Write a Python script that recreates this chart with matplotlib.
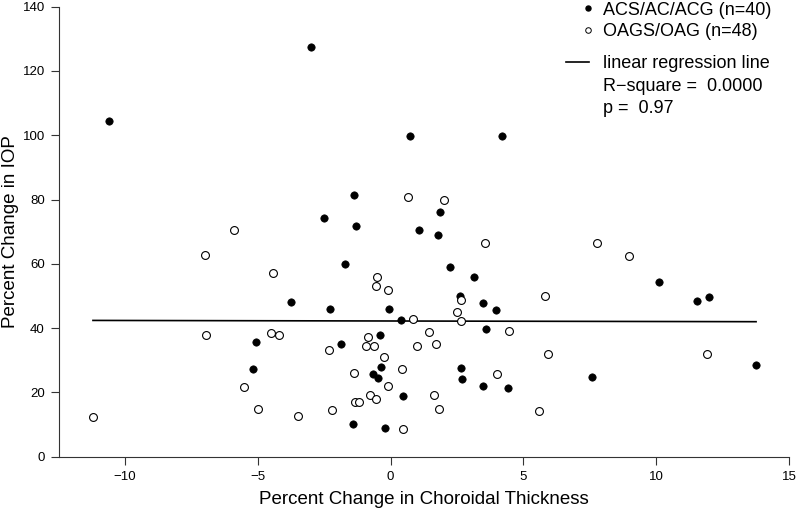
import numpy as np
import matplotlib
matplotlib.use("Agg")
import matplotlib.pyplot as plt

plt.rcParams['font.family'] = ['Liberation Sans', 'DejaVu Sans']

# ACS/AC/ACG group (filled dots)
acs_x = [-10.59, -3.01, 0.74, 4.19, -1.36, 1.87, -2.49, -1.31, 1.06, 1.80,
         -1.72, 2.25, 3.15, 2.62, -2.29, -0.04, 3.50, 3.97, 0.41, 3.60,
         -0.39, -1.86, -0.36, 2.67, -0.66, -0.46, 2.70, 3.47, 4.41, 0.46,
         -1.40, -0.19, -3.73, -5.05, -5.18, 10.09, 11.52, 11.98, 13.76, 7.60]
acs_y = [104.5, 127.4, 99.9, 99.9, 81.4, 76.0, 74.2, 71.7, 70.6, 68.9,
         59.9, 59.0, 55.9, 49.9, 46.1, 46.1, 47.9, 45.7, 42.5, 39.8,
         38.0, 35.1, 27.8, 27.5, 25.6, 24.4, 24.1, 21.9, 21.4, 18.9,
         10.3, 9.0, 48.1, 35.8, 27.2, 54.5, 48.3, 49.8, 28.5, 24.9]

# OAGS/OAG group (open circles)
oag_x = [-5.91, 0.67, 2.02, 3.54, -0.51, -0.56, -0.11, 2.65, 5.82, 2.51,
         0.85, 2.67, 4.46, -0.84, 1.46, 1.72, 1.01, -0.91, -0.63, -2.31,
         5.91, -0.23, -1.39, 0.42, 4.02, -0.08, -0.78, -0.56, -1.35, -1.20,
         1.64, 1.84, -2.21, 5.60, 0.47, -3.50, -7.00, -4.41, -6.96, -4.49,
         -4.18, -5.53, -4.99, -11.20, 7.79, 8.96, 11.91]
oag_y = [70.5, 80.9, 79.9, 66.6, 55.9, 53.2, 52.0, 48.7, 49.9, 44.9,
         42.7, 42.2, 39.1, 37.3, 38.7, 35.2, 34.4, 34.3, 34.3, 33.3,
         32.0, 30.9, 25.9, 27.2, 25.6, 21.9, 19.3, 17.9, 17.1, 17.0,
         19.1, 14.7, 14.4, 14.2, 8.6, 12.8, 62.9, 57.1, 38.0, 38.4,
         37.8, 21.7, 14.8, 12.4, 66.5, 62.3, 31.9]

# fitted line (R-square ~ 0)
reg_intercept = 42.22
reg_slope = -0.016

x_ticks = [-10, -5, 0, 5, 10, 15]
y_ticks = [0, 20, 40, 60, 80, 100, 120, 140]
legend_labels = ["ACS/AC/ACG (n=40)", "OAGS/OAG (n=48)",
                 "linear regression line", "R\u2212square =  0.0000", "p =  0.97"]

fig = plt.figure(figsize=(7.96, 5.12), dpi=100)
ax = fig.add_axes([58.7 / 796, 1 - 456.7 / 512, (789 - 58.7) / 796, (456.7 - 6.7) / 512])

ax.scatter(acs_x, acs_y, s=28, c='black', edgecolors='black', linewidths=0.5, zorder=3)
ax.scatter(oag_x, oag_y, s=32, facecolors='white', edgecolors='black', linewidths=0.8, zorder=3)

# regression line spans the range of all points
all_x = np.array(acs_x + oag_x)
xx = np.array([all_x.min(), all_x.max()])
ax.plot(xx, reg_intercept + reg_slope * xx, color='black', lw=1.2, zorder=2)

ax.set_xlim(-12.49, 15)
ax.set_ylim(0, 140)
ax.set_xticks(x_ticks)
ax.set_yticks(y_ticks)
for s in ['top', 'right']:
    ax.spines[s].set_visible(False)
for s in ['left', 'bottom']:
    ax.spines[s].set_color('#333333')
    ax.spines[s].set_linewidth(0.8)
ax.tick_params(length=6, width=0.8, color='#333333', labelsize=9.5, pad=4)

ax.set_xlabel("Percent Change in Choroidal Thickness", fontsize=13.5, labelpad=6)
ax.set_ylabel("Percent Change in IOP", fontsize=13.5)
ax.yaxis.set_label_coords((19 - 58.7) / 730.3, 0.5)

# legend drawn by hand, R style
tx = 603 / 796
fs = 13
fig.text(tx, 1 - 15 / 512, legend_labels[0], fontsize=fs, va='baseline')
fig.text(tx, 1 - 35.5 / 512, legend_labels[1], fontsize=fs, va='baseline')
fig.text(tx, 1 - 68.3 / 512, legend_labels[2], fontsize=fs, va='baseline')
fig.text(tx, 1 - 90.7 / 512, legend_labels[3], fontsize=fs, va='baseline')
fig.text(tx, 1 - 112.7 / 512, legend_labels[4], fontsize=fs, va='baseline')
fig.lines.append(plt.Line2D([588 / 796], [1 - 8 / 512], marker='o', ms=3.6,
                            color='black', transform=fig.transFigure, figure=fig))
fig.lines.append(plt.Line2D([588 / 796], [1 - 29.5 / 512], marker='o', ms=4, mfc='white',
                            mec='black', mew=0.7, transform=fig.transFigure, figure=fig))
fig.lines.append(plt.Line2D([566 / 796, 589 / 796], [1 - 61.5 / 512] * 2, color='black', lw=1.2,
                            transform=fig.transFigure, figure=fig))

fig.savefig("out.png", dpi=100)
